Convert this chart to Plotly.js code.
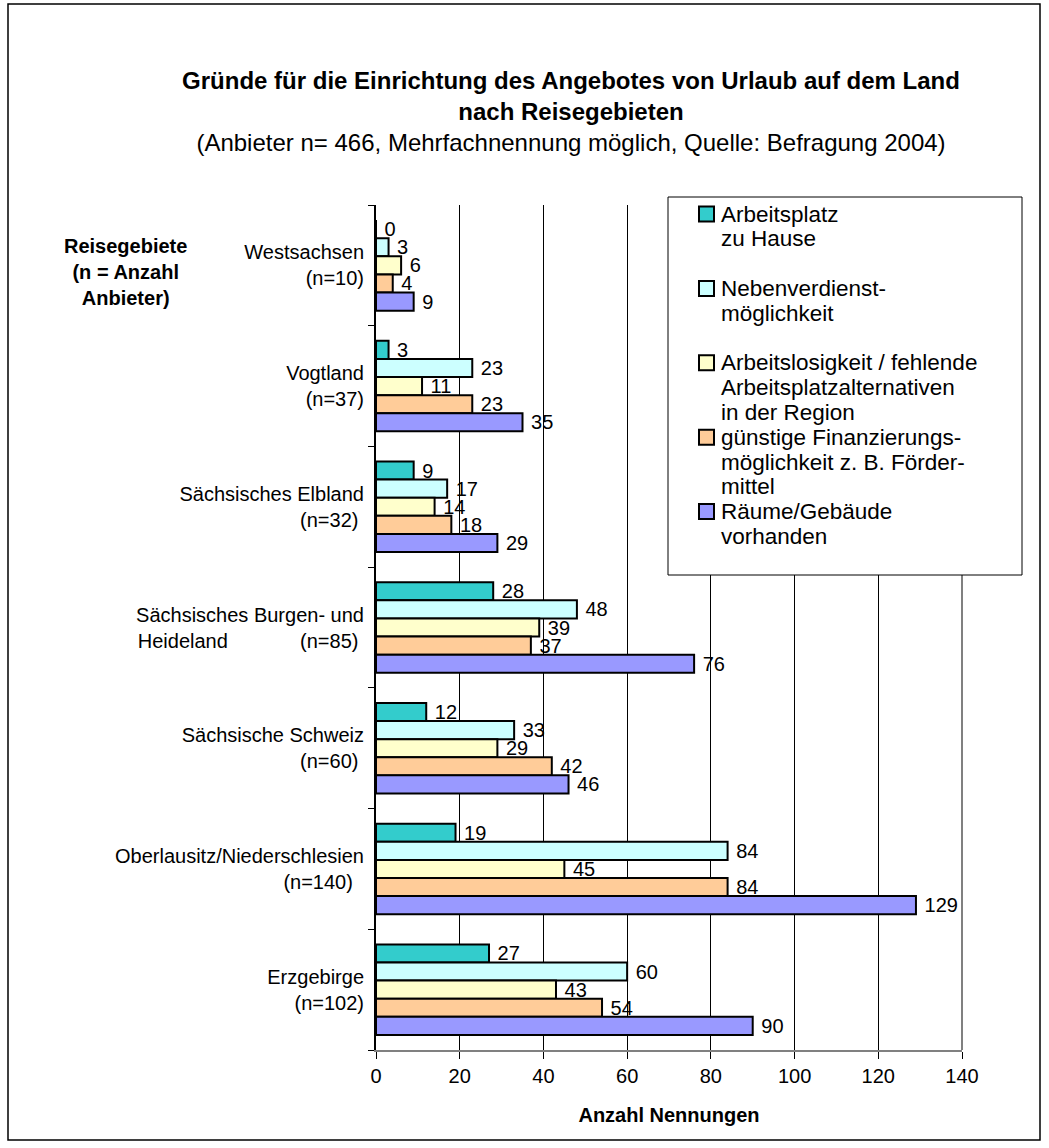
<!DOCTYPE html>
<html>
<head>
<meta charset="utf-8">
<script src="https://cdn.plot.ly/plotly-3.0.1.min.js"></script>
<style>
  html, body { margin: 0; padding: 0; background: #ffffff; }
  #chart { width: 1049px; height: 1148px; }
</style>
</head>
<body>
<div id="chart"></div>
<script>
// ---- Data ----
const regions = [
  "Westsachsen",
  "Vogtland",
  "Sächsisches Elbland",
  "Sächsisches Burgen- und Heideland",
  "Sächsische Schweiz",
  "Oberlausitz/Niederschlesien",
  "Erzgebirge"
];
const NB = "\u00a0";
const regionTickLabels = [
  "Westsachsen<br>(n=10)",
  "Vogtland<br>(n=37)",
  "Sächsisches Elbland<br>(n=32)" + NB,
  "Sächsisches Burgen- und<br>Heideland" + NB.repeat(13) + "(n=85)" + NB,
  "Sächsische Schweiz<br>(n=60)" + NB,
  "Oberlausitz/Niederschlesien<br>(n=140)" + NB + NB,
  "Erzgebirge<br>(n=102)"
];

const seriesNames = [
  "Arbeitsplatz zu Hause",
  "Nebenverdienstmöglichkeit",
  "Arbeitslosigkeit / fehlende Arbeitsplatzalternativen in der Region",
  "günstige Finanzierungsmöglichkeit z. B. Fördermittel",
  "Räume/Gebäude vorhanden"
];
const legendLines = [
  ["Arbeitsplatz", "zu Hause"],
  ["Nebenverdienst-", "möglichkeit"],
  ["Arbeitslosigkeit / fehlende", "Arbeitsplatzalternativen", "in der Region"],
  ["günstige Finanzierungs-", "möglichkeit z. B. Förder-", "mittel"],
  ["Räume/Gebäude", "vorhanden"]
];
const arbeitsplatzZuHause   = [0, 3, 9, 28, 12, 19, 27];
const nebenverdienst        = [3, 23, 17, 48, 33, 84, 60];
const arbeitslosigkeit      = [6, 11, 14, 39, 29, 45, 43];
const finanzierung          = [4, 23, 18, 37, 42, 84, 54];
const raeumeVorhanden       = [9, 35, 29, 76, 46, 129, 90];
const seriesValues = [arbeitsplatzZuHause, nebenverdienst, arbeitslosigkeit, finanzierung, raeumeVorhanden];
const seriesColors = ["#33CCCC", "#CCFFFF", "#FFFFCC", "#FFCC99", "#9999FF"];

const xTicks = [0, 20, 40, 60, 80, 100, 120, 140];

// ---- Layout geometry ----
const W = 1049, H = 1148;
const L = 376, R = 962, T = 205, B = 1050;
const pw = R - L, ph = B - T;
const px = v => (v - L) / pw;
const py = v => (B - v) / ph;

const FONT = "Liberation Sans, Arial, Helvetica, sans-serif";

const traces = seriesValues.map((vals, i) => ({
  type: "bar",
  orientation: "h",
  name: seriesNames[i],
  showlegend: false,
  y: regions,
  x: vals,
  marker: { color: seriesColors[i], line: { color: "#000000", width: 2 } },
  texttemplate: NB + "%{x}",
  textposition: "outside",
  constraintext: "none",
  cliponaxis: false,
  textfont: { family: FONT, size: 20, color: "#000000" },
  hoverinfo: "x+name"
}));

// ---- Legend (drawn inside a framed box, Excel style: equal slots) ----
const legendBox = { x0: 668, x1: 1022, y0: 197, y1: 575 };
const LEG_FONT = 22.5, LEG_STEP = 24.8, LEG_FIRST = 214;
const slotStart = [0, 3, 6, 9, 12];
const legendAnn = [];
const legendShapes = [];
legendLines.forEach((lines, i) => {
  lines.forEach((t, j) => {
    legendAnn.push({
      xref: "paper", yref: "paper",
      x: px(719), y: py(LEG_FIRST + (slotStart[i] + j) * LEG_STEP),
      xanchor: "left", yanchor: "middle", align: "left", showarrow: false,
      text: t, font: { family: FONT, size: LEG_FONT, color: "#000000" }
    });
  });
  const yc = LEG_FIRST + slotStart[i] * LEG_STEP;
  legendShapes.push({
    type: "rect", xref: "paper", yref: "paper", layer: "above",
    x0: px(699), x1: px(714), y0: py(yc + 7.5), y1: py(yc - 7.5),
    line: { color: "#000000", width: 2 }, fillcolor: seriesColors[i]
  });
});

const layout = {
  width: W,
  height: H,
  paper_bgcolor: "#ffffff",
  plot_bgcolor: "#ffffff",
  font: { family: FONT, size: 20, color: "#000000" },
  margin: { l: L, r: W - R, t: T, b: H - B, pad: 0 },
  barmode: "group",
  bargap: 0.25,
  bargroupgap: 0,
  showlegend: false,
  title: {
    text: "<b>Gründe für die Einrichtung des Angebotes von Urlaub auf dem Land<br>nach Reisegebieten</b><br>(Anbieter n= 466, Mehrfachnennung möglich, Quelle: Befragung 2004)",
    font: { family: FONT, size: 24, color: "#000000" },
    xref: "paper",
    x: px(571),
    xanchor: "center",
    yref: "container",
    y: 1 - 89 / H,
    yanchor: "top"
  },
  xaxis: {
    range: [0, 140],
    tickvals: xTicks,
    ticktext: xTicks.map(String),
    showgrid: true,
    gridcolor: "#000000",
    gridwidth: 1,
    zeroline: false,
    showline: true,
    linecolor: "#808080",
    linewidth: 2,
    ticks: "outside",
    ticklen: 7,
    tickwidth: 1,
    tickcolor: "#000000",
    tickfont: { family: FONT, size: 20, color: "#000000" },
    title: {
      text: "<b>Anzahl Nennungen</b>",
      font: { family: FONT, size: 20, color: "#000000" },
      standoff: 22
    },
    fixedrange: true
  },
  yaxis: {
    type: "category",
    categoryorder: "array",
    categoryarray: regions,
    tickvals: regions,
    ticktext: regionTickLabels,
    autorange: "reversed",
    showgrid: false,
    zeroline: false,
    showline: true,
    linecolor: "#000000",
    linewidth: 2,
    ticks: "outside",
    tickson: "boundaries",
    ticklen: 6,
    tickwidth: 1,
    tickcolor: "#000000",
    ticklabelstandoff: 6,
    tickfont: { family: FONT, size: 20, color: "#000000" },
    fixedrange: true
  },
  shapes: [
    // outer chart frame
    { type: "rect", xref: "paper", yref: "paper", layer: "below",
      x0: px(8), x1: px(1040), y0: py(1140), y1: py(4),
      line: { color: "#000000", width: 1.5 }, fillcolor: "rgba(0,0,0,0)" },
    // right plot border (grey)
    { type: "line", xref: "paper", yref: "paper", layer: "above",
      x0: 1, x1: 1, y0: 0, y1: 1,
      line: { color: "#808080", width: 2 } },
    // legend box
    { type: "rect", xref: "paper", yref: "paper", layer: "above",
      x0: px(legendBox.x0), x1: px(legendBox.x1), y0: py(legendBox.y1), y1: py(legendBox.y0),
      line: { color: "#000000", width: 1 }, fillcolor: "#ffffff" }
  ].concat(legendShapes),
  annotations: [
    { xref: "paper", yref: "paper", x: px(125), y: py(272),
      xanchor: "center", yanchor: "middle", align: "center", showarrow: false,
      text: "<b>Reisegebiete<br>(n = Anzahl<br>Anbieter)</b>",
      font: { family: FONT, size: 20, color: "#000000" } }
  ].concat(legendAnn)
};

Plotly.newPlot("chart", traces, layout, { displayModeBar: false });
</script>
</body>
</html>
